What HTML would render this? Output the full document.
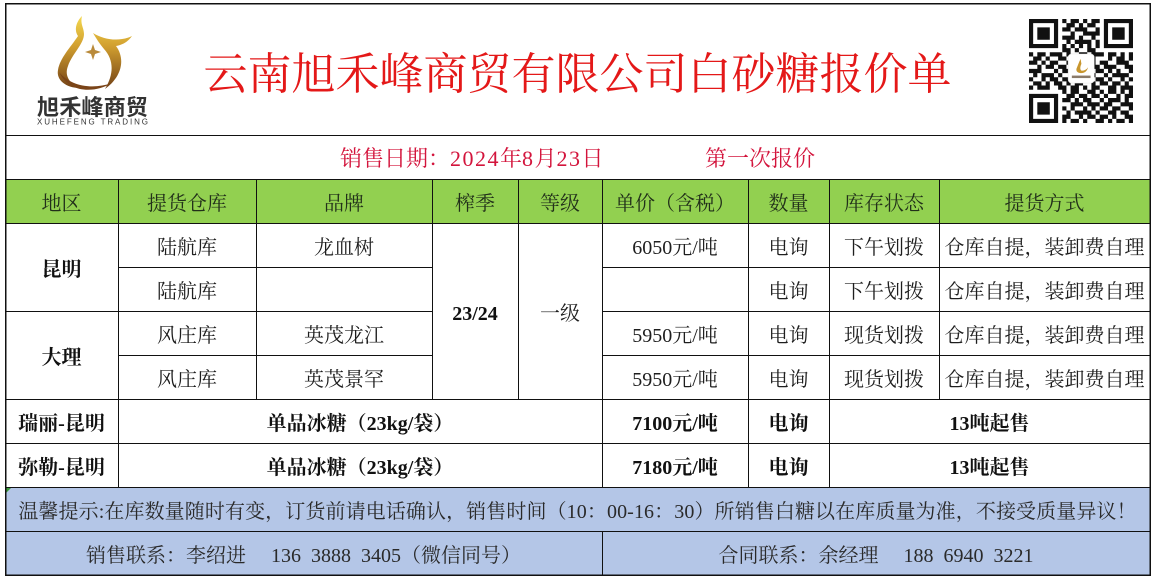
<!DOCTYPE html>
<html>
<head>
<meta charset="utf-8">
<style>
  html,body{margin:0;padding:0;background:#fff;}
  body{width:1154px;height:580px;position:relative;overflow:hidden;
       font-family:"Liberation Serif","Noto Serif CJK SC",serif;color:#1e1e1e;}
  .c{position:absolute;display:flex;align-items:center;justify-content:center;
     font-size:20px;white-space:pre;line-height:1;transform:translateY(2px);}
  .b{font-weight:bold;color:#111;}
  .h{color:#22301a;}
  .d{letter-spacing:1.5px;}
</style>
</head>
<body>
<svg width="1154" height="580" style="position:absolute;left:0;top:0" xmlns="http://www.w3.org/2000/svg">
  <defs>
    <linearGradient id="gold2" x1="0" y1="15" x2="0" y2="92" gradientUnits="userSpaceOnUse">
      <stop offset="0" stop-color="#F5DA50"/>
      <stop offset="0.4" stop-color="#D2A030"/>
      <stop offset="1" stop-color="#6A3914"/>
    </linearGradient>
  </defs>
  <!-- fills -->
  <rect x="5" y="179" width="1145" height="44" fill="#92D050"/>
  <rect x="5" y="487" width="1145" height="88" fill="#B4C6E7"/>
  <polygon points="6,488 11,488 6,493" fill="#3a9a3a"/>

  <!-- logo -->
  <g>
    <path d="M82,16 C76,22 74,30 78,36 C70,48 60,58 58,70 C56,80 66,88 80,88 C70,84 64,76 68,66 C72,54 84,44 84,34 C84,28 80,24 82,16 Z" fill="url(#gold2)"/>
    <path d="M93,33 C104,40 120,42 132,36 C127,43 121,45 116,46 C125,58 123,76 105,89 C114,74 114,60 104,49 C99,43 96,38 93,33 Z" fill="url(#gold2)"/>
    <path d="M59,72 C70,86 92,90 112,83 C95,93 70,94 59,72 Z" fill="#7A4418"/>
    <path d="M93,44 L95,50 L101,52 L95,54 L93,60 L91,54 L85,52 L91,50 Z" fill="#B98A3A"/>
    <text x="37" y="115" font-family="'Noto Sans CJK SC','WenQuanYi Zen Hei',sans-serif" font-weight="bold" font-size="22" fill="#333" textLength="111" lengthAdjust="spacingAndGlyphs">旭禾峰商贸</text>
    <text x="37" y="124.5" font-family="'Liberation Sans',sans-serif" font-size="8" fill="#333" textLength="111" lengthAdjust="spacing">XUHEFENG TRADING</text>
  </g>

  <!-- QR code -->
  <g transform="translate(1029,19) scale(4.16)" fill="#111">
    <path d="M0 0h7v1h-7zM8 0h1v1h-1zM10 0h2v1h-2zM13 0h1v1h-1zM15 0h2v1h-2zM18 0h7v1h-7z
M0 1h1v1h-1zM6 1h1v1h-1zM9 1h2v1h-2zM12 1h1v1h-1zM14 1h2v1h-2zM18 1h1v1h-1zM24 1h1v1h-1z
M0 2h1v1h-1zM2 2h3v1h-3zM6 2h1v1h-1zM8 2h2v1h-2zM11 2h3v1h-3zM16 2h1v1h-1zM18 2h1v1h-1zM20 2h3v1h-3zM24 2h1v1h-1z
M0 3h1v1h-1zM2 3h3v1h-3zM6 3h1v1h-1zM10 3h1v1h-1zM13 3h4v1h-4zM18 3h1v1h-1zM20 3h3v1h-3zM24 3h1v1h-1z
M0 4h1v1h-1zM2 4h3v1h-3zM6 4h1v1h-1zM8 4h3v1h-3zM12 4h1v1h-1zM15 4h1v1h-1zM18 4h1v1h-1zM20 4h3v1h-3zM24 4h1v1h-1z
M0 5h1v1h-1zM6 5h1v1h-1zM9 5h1v1h-1zM11 5h4v1h-4zM16 5h1v1h-1zM18 5h1v1h-1zM24 5h1v1h-1z
M0 6h7v1h-7zM8 6h1v1h-1zM10 6h1v1h-1zM12 6h1v1h-1zM14 6h1v1h-1zM16 6h1v1h-1zM18 6h7v1h-7z
M8 7h2v1h-2zM11 7h1v1h-1zM14 7h2v1h-2z
M0 8h1v1h-1zM2 8h2v1h-2zM5 8h3v1h-3zM9 8h1v1h-1zM12 8h2v1h-2zM15 8h3v1h-3zM19 8h2v1h-2zM22 8h1v1h-1zM24 8h1v1h-1z
M1 9h2v1h-2zM4 9h1v1h-1zM7 9h2v1h-2zM10 9h2v1h-2zM14 9h2v1h-2zM19 9h1v1h-1zM21 9h2v1h-2zM24 9h1v1h-1z
M0 10h2v1h-2zM3 10h1v1h-1zM5 10h2v1h-2zM9 10h1v1h-1zM11 10h2v1h-2zM14 10h2v1h-2zM17 10h2v1h-2zM21 10h3v1h-3z
M2 11h1v1h-1zM4 11h2v1h-2zM7 11h2v1h-2zM10 11h1v1h-1zM13 11h1v1h-1zM15 11h2v1h-2zM18 11h3v1h-3zM23 11h2v1h-2z
M0 12h3v1h-3zM6 12h1v1h-1zM8 12h3v1h-3zM12 12h2v1h-2zM16 12h2v1h-2zM19 12h1v1h-1zM21 12h1v1h-1zM24 12h1v1h-1z
M1 13h1v1h-1zM3 13h3v1h-3zM7 13h1v1h-1zM11 13h2v1h-2zM14 13h2v1h-2zM18 13h1v1h-1zM20 13h4v1h-4z
M0 14h1v1h-1zM3 14h1v1h-1zM5 14h2v1h-2zM8 14h3v1h-3zM13 14h2v1h-2zM16 14h2v1h-2zM19 14h1v1h-1zM22 14h1v1h-1zM24 14h1v1h-1z
M1 15h2v1h-2zM4 15h1v1h-1zM6 15h2v1h-2zM9 15h1v1h-1zM11 15h2v1h-2zM15 15h1v1h-1zM17 15h2v1h-2zM20 15h2v1h-2zM23 15h1v1h-1z
M0 16h1v1h-1zM2 16h3v1h-3zM7 16h2v1h-2zM10 16h2v1h-2zM13 16h1v1h-1zM15 16h2v1h-2zM19 16h2v1h-2zM22 16h3v1h-3z
M8 17h1v1h-1zM10 17h2v1h-2zM14 17h2v1h-2zM17 17h1v1h-1zM19 17h2v1h-2zM22 17h1v1h-1zM24 17h1v1h-1z
M0 18h7v1h-7zM9 18h2v1h-2zM12 18h2v1h-2zM15 18h2v1h-2zM18 18h1v1h-1zM21 18h1v1h-1zM23 18h2v1h-2z
M0 19h1v1h-1zM6 19h1v1h-1zM8 19h2v1h-2zM11 19h1v1h-1zM13 19h2v1h-2zM17 19h1v1h-1zM19 19h3v1h-3zM23 19h1v1h-1z
M0 20h1v1h-1zM2 20h3v1h-3zM6 20h1v1h-1zM10 20h3v1h-3zM14 20h3v1h-3zM18 20h2v1h-2zM22 20h3v1h-3z
M0 21h1v1h-1zM2 21h3v1h-3zM6 21h1v1h-1zM8 21h1v1h-1zM10 21h1v1h-1zM13 21h1v1h-1zM15 21h1v1h-1zM17 21h2v1h-2zM20 21h2v1h-2zM24 21h1v1h-1z
M0 22h1v1h-1zM2 22h3v1h-3zM6 22h1v1h-1zM9 22h1v1h-1zM11 22h4v1h-4zM16 22h1v1h-1zM19 22h2v1h-2zM22 22h2v1h-2z
M0 23h1v1h-1zM6 23h1v1h-1zM8 23h2v1h-2zM12 23h1v1h-1zM14 23h2v1h-2zM17 23h2v1h-2zM20 23h1v1h-1zM23 23h2v1h-2z
M0 24h7v1h-7zM8 24h1v1h-1zM10 24h2v1h-2zM13 24h1v1h-1zM16 24h2v1h-2zM19 24h1v1h-1zM21 24h2v1h-2zM24 24h1v1h-1z"/>
    <rect x="9.4" y="8.4" width="6.3" height="7" rx="0.8" fill="#fff" stroke="#ddd" stroke-width="0.1"/>
    <path d="M12.4 9.6 C12 10.4 11.7 11.3 11.4 12 C11.3 12.7 11.8 13 12.5 13 C13.4 13 14 12.5 14.2 11.6 C13.8 12.2 13.2 12.5 12.6 12.4 C12.2 12.2 12.3 11.4 12.6 10.8 Z" fill="#C8962E"/>
    <rect x="10.3" y="13.6" width="4.5" height="0.6" fill="#8a7a6a"/>
  </g>

  <!-- grid lines -->
  <g stroke="#111" stroke-width="1" shape-rendering="crispEdges" fill="none">
    <rect x="5.5" y="3.5" width="1144.5" height="571.5" stroke-width="1.5"/>
    <line x1="5" y1="135.5" x2="1150" y2="135.5"/>
    <line x1="5" y1="179.5" x2="1150" y2="179.5"/>
    <line x1="5" y1="223.5" x2="1150" y2="223.5"/>
    <line x1="118" y1="267.5" x2="432" y2="267.5"/>
    <line x1="602" y1="267.5" x2="1150" y2="267.5"/>
    <line x1="5" y1="311.5" x2="432" y2="311.5"/>
    <line x1="602" y1="311.5" x2="1150" y2="311.5"/>
    <line x1="118" y1="355.5" x2="432" y2="355.5"/>
    <line x1="602" y1="355.5" x2="1150" y2="355.5"/>
    <line x1="5" y1="399.5" x2="1150" y2="399.5"/>
    <line x1="5" y1="443.5" x2="1150" y2="443.5"/>
    <line x1="5" y1="487.5" x2="1150" y2="487.5"/>
    <line x1="5" y1="531.5" x2="1150" y2="531.5"/>
    <!-- verticals -->
    <line x1="118.5" y1="179" x2="118.5" y2="487"/>
    <line x1="256.5" y1="179" x2="256.5" y2="399"/>
    <line x1="432.5" y1="179" x2="432.5" y2="399"/>
    <line x1="518.5" y1="179" x2="518.5" y2="399"/>
    <line x1="602.5" y1="179" x2="602.5" y2="487"/>
    <line x1="748.5" y1="179" x2="748.5" y2="487"/>
    <line x1="829.5" y1="179" x2="829.5" y2="487"/>
    <line x1="939.5" y1="179" x2="939.5" y2="399"/>
    <line x1="602.5" y1="531" x2="602.5" y2="575"/>
  </g>
</svg>

<!-- title -->
<div class="c" style="left:5px;top:50px;width:1145px;height:48px;font-size:44px;color:#E41818;transform:translateY(1px);">云南旭禾峰商贸有限公司白砂糖报价单</div>

<!-- date row -->
<div class="c" style="left:340px;top:136px;height:43px;font-size:22px;color:#D3143C;justify-content:flex-start;transform:translateY(1px);">销售日期：<span class="d">2024</span>年<span class="d">8</span>月<span class="d">23</span>日</div>
<div class="c" style="left:705px;top:136px;height:43px;font-size:22px;color:#D3143C;justify-content:flex-start;transform:translateY(1px);">第一次报价</div>

<!-- header -->
<div class="c h" style="left:5px;top:180px;width:113px;height:43px;">地区</div>
<div class="c h" style="left:118px;top:180px;width:138px;height:43px;">提货仓库</div>
<div class="c h" style="left:256px;top:180px;width:176px;height:43px;">品牌</div>
<div class="c h" style="left:432px;top:180px;width:86px;height:43px;">榨季</div>
<div class="c h" style="left:518px;top:180px;width:84px;height:43px;">等级</div>
<div class="c h" style="left:602px;top:180px;width:146px;height:43px;">单价（含税）</div>
<div class="c h" style="left:748px;top:180px;width:81px;height:43px;">数量</div>
<div class="c h" style="left:829px;top:180px;width:110px;height:43px;">库存状态</div>
<div class="c h" style="left:939px;top:180px;width:211px;height:43px;">提货方式</div>

<!-- merged cells -->
<div class="c b" style="left:5px;top:224px;width:113px;height:87px;">昆明</div>
<div class="c b" style="left:5px;top:312px;width:113px;height:87px;">大理</div>
<div class="c b" style="left:432px;top:224px;width:86px;height:175px;">23/24</div>
<div class="c" style="left:518px;top:224px;width:84px;height:175px;">一级</div>

<!-- row 1 -->
<div class="c" style="left:118px;top:224px;width:138px;height:43px;">陆航库</div>
<div class="c" style="left:256px;top:224px;width:176px;height:43px;">龙血树</div>
<div class="c" style="left:602px;top:224px;width:146px;height:43px;">6050元/吨</div>
<div class="c" style="left:748px;top:224px;width:81px;height:43px;">电询</div>
<div class="c" style="left:829px;top:224px;width:110px;height:43px;">下午划拨</div>
<div class="c" style="left:939px;top:224px;width:211px;height:43px;">仓库自提，装卸费自理</div>
<!-- row 2 -->
<div class="c" style="left:118px;top:268px;width:138px;height:43px;">陆航库</div>
<div class="c" style="left:748px;top:268px;width:81px;height:43px;">电询</div>
<div class="c" style="left:829px;top:268px;width:110px;height:43px;">下午划拨</div>
<div class="c" style="left:939px;top:268px;width:211px;height:43px;">仓库自提，装卸费自理</div>
<!-- row 3 -->
<div class="c" style="left:118px;top:312px;width:138px;height:43px;">风庄库</div>
<div class="c" style="left:256px;top:312px;width:176px;height:43px;">英茂龙江</div>
<div class="c" style="left:602px;top:312px;width:146px;height:43px;">5950元/吨</div>
<div class="c" style="left:748px;top:312px;width:81px;height:43px;">电询</div>
<div class="c" style="left:829px;top:312px;width:110px;height:43px;">现货划拨</div>
<div class="c" style="left:939px;top:312px;width:211px;height:43px;">仓库自提，装卸费自理</div>
<!-- row 4 -->
<div class="c" style="left:118px;top:356px;width:138px;height:43px;">风庄库</div>
<div class="c" style="left:256px;top:356px;width:176px;height:43px;">英茂景罕</div>
<div class="c" style="left:602px;top:356px;width:146px;height:43px;">5950元/吨</div>
<div class="c" style="left:748px;top:356px;width:81px;height:43px;">电询</div>
<div class="c" style="left:829px;top:356px;width:110px;height:43px;">现货划拨</div>
<div class="c" style="left:939px;top:356px;width:211px;height:43px;">仓库自提，装卸费自理</div>

<!-- row 5 -->
<div class="c b" style="left:5px;top:400px;width:113px;height:43px;">瑞丽-昆明</div>
<div class="c b" style="left:118px;top:400px;width:484px;height:43px;">单品冰糖（23kg/袋）</div>
<div class="c b" style="left:602px;top:400px;width:146px;height:43px;">7100元/吨</div>
<div class="c b" style="left:748px;top:400px;width:81px;height:43px;">电询</div>
<div class="c b" style="left:829px;top:400px;width:321px;height:43px;">13吨起售</div>
<!-- row 6 -->
<div class="c b" style="left:5px;top:444px;width:113px;height:43px;">弥勒-昆明</div>
<div class="c b" style="left:118px;top:444px;width:484px;height:43px;">单品冰糖（23kg/袋）</div>
<div class="c b" style="left:602px;top:444px;width:146px;height:43px;">7180元/吨</div>
<div class="c b" style="left:748px;top:444px;width:81px;height:43px;">电询</div>
<div class="c b" style="left:829px;top:444px;width:321px;height:43px;">13吨起售</div>

<!-- tip -->
<div class="c" style="left:5px;top:488px;width:1145px;height:43px;font-size:20px;letter-spacing:0.1px;color:#2a2a2a;">温馨提示:在库数量随时有变，订货前请电话确认，销售时间（10：00-16：30）所销售白糖以在库质量为准，不接受质量异议！</div>

<!-- footer -->
<div class="c" style="left:5px;top:532px;width:597px;height:43px;color:#2a2a2a;">销售联系：李绍进 &#8195;136&#8194;3888&#8194;3405（微信同号）</div>
<div class="c" style="left:602px;top:532px;width:548px;height:43px;color:#2a2a2a;">合同联系：余经理 &#8195;188&#8194;6940&#8194;3221</div>
</body>
</html>
